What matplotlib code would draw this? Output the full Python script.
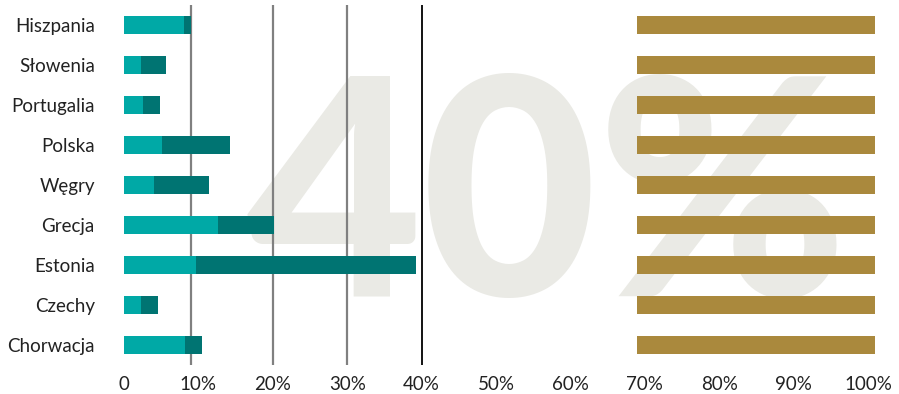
import matplotlib
matplotlib.use("Agg")
import matplotlib.pyplot as plt

plt.rcParams['font.family'] = ['Lato', 'DejaVu Sans']

countries = ['Hiszpania', 'Słowenia', 'Portugalia', 'Polska', 'Węgry',
             'Grecja', 'Estonia', 'Czechy', 'Chorwacja']
part_a = [8.1, 2.3, 2.6, 5.1, 4.0, 12.6, 9.7, 2.3, 8.2]
part_b = [0.9, 3.3, 2.2, 9.1, 7.4, 7.5, 29.6, 2.3, 2.3]
gold_start = [68.9] * 9
gold_end = [101.0] * 9
ref_lines = [9, 20, 30]
ref_main = 40
xticks = [0, 10, 20, 30, 40, 50, 60, 70, 80, 90, 100]
xtick_labels = ['0'] + [f'{v}%' for v in xticks[1:]]
watermark = '40%'

light = '#00a9a6'
dark = '#007472'
gold = '#aa893d'

W, H = 899, 394
fig = plt.figure(figsize=(W / 100, H / 100), dpi=100)
ax = fig.add_axes([124 / W, 29 / H, (104 * 7.44) / W, 360 / H])
ax.set_facecolor('none')

# big background number, kept behind lines and bars
ax.text(547 / W, 98 / H, watermark, transform=fig.transFigure,
        fontsize=218, fontweight='black', color='#eaeae5',
        ha='center', va='baseline', zorder=0, clip_on=False)

ypos = list(range(len(countries)))
for x in ref_lines:
    ax.axvline(x, color='#808080', lw=1.6, zorder=1)
ax.axvline(ref_main, color='black', lw=1.3, zorder=1)

ax.barh(ypos, part_a, height=0.45, color=light, zorder=2)
ax.barh(ypos, part_b, left=part_a, height=0.45, color=dark, zorder=2)
ax.barh(ypos, [e - s for s, e in zip(gold_start, gold_end)], left=gold_start,
        height=0.45, color=gold, zorder=2)

ax.set_xlim(0, 104)
ax.set_ylim(len(countries) - 0.5, -0.5)
ax.set_yticks(ypos)
ax.set_yticklabels(countries, fontsize=13.5, color='#222222')
ax.set_xticks(xticks)
ax.set_xticklabels(xtick_labels, fontsize=13.5, color='#222222')
ax.tick_params(axis='both', length=0)
ax.tick_params(axis='x', pad=8)
ax.tick_params(axis='y', pad=21)
for s in ax.spines.values():
    s.set_visible(False)

fig.savefig('out.png', dpi=100)
